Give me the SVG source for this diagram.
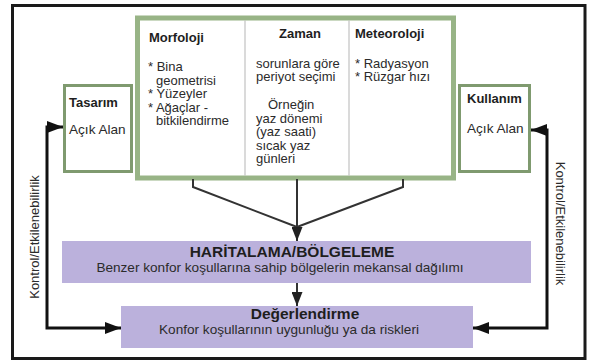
<svg xmlns="http://www.w3.org/2000/svg" width="590" height="363" viewBox="0 0 590 363">
<style>
text{font-family:"Liberation Sans",Arial,sans-serif;fill:#2b2b2b}
.h{font-size:13px;font-weight:bold;fill:#1e1e1e}
.t{font-size:13px}
.s{font-size:13.6px}
.big{font-size:15.5px;font-weight:bold;fill:#1e1e1e}
.m{text-anchor:middle}
.gbox{fill:#fff;stroke:#7f9a6f;stroke-width:3}
.lav{fill:#bbb1dc}
.conn{fill:none;stroke:#111;stroke-width:3}
.flow{fill:none;stroke:#333;stroke-width:2}
</style>
<defs>
<marker id="ah" markerUnits="userSpaceOnUse" markerWidth="16" markerHeight="12" refX="16" refY="6" orient="auto-start-reverse">
<path d="M0,0 L16,6 L0,12 z" fill="#111"/>
</marker>
<marker id="af" markerUnits="userSpaceOnUse" markerWidth="14" markerHeight="11" refX="14" refY="5.5" orient="auto">
<path d="M0,0 L14,5.5 L0,11 z" fill="#222"/>
</marker>
</defs>
<rect x="0" y="0" width="590" height="363" fill="#fff"/>
<rect x="12.5" y="5.5" width="572.5" height="353" fill="none" stroke="#1a1a1a" stroke-width="3"/>

<g id="inputs">
<rect x="137.5" y="18" width="316" height="160" fill="#fff" stroke="#98b486" stroke-width="5"/>
<line x1="245" y1="20.5" x2="245" y2="175.5" stroke="#b5b5b5" stroke-width="1"/>
<line x1="349" y1="20.5" x2="349" y2="175.5" stroke="#b5b5b5" stroke-width="1"/>
<text class="h" x="149" y="42">Morfoloji</text>
<text class="t" x="148" y="71">* Bina</text>
<text class="t" x="156" y="84.5">geometrisi</text>
<text class="t" x="148" y="98">* Yüzeyler</text>
<text class="t" x="148" y="111.5">* Ağaçlar -</text>
<text class="t" x="156" y="125">bitkilendirme</text>
<text class="h m" x="300" y="38">Zaman</text>
<text class="t" x="256" y="67.5">sorunlara göre</text>
<text class="t" x="256" y="81">periyot seçimi</text>
<text class="t" x="268" y="109">Örneğin</text>
<text class="t" x="256" y="122.5">yaz dönemi</text>
<text class="t" x="256" y="136">(yaz saati)</text>
<text class="t" x="256" y="149.5">sıcak yaz</text>
<text class="t" x="256" y="163">günleri</text>
<text class="h" x="355" y="38">Meteoroloji</text>
<text class="t" x="355" y="67.5">* Radyasyon</text>
<text class="t" x="355" y="81">* Rüzgar hızı</text>
</g>

<g id="tasarim">
<rect class="gbox" x="64.5" y="85.5" width="67" height="86"/>
<text class="h" x="69" y="107">Tasarım</text>
<text class="s" x="69" y="134">Açık Alan</text>
</g>

<g id="kullanim">
<rect class="gbox" x="459.5" y="85.5" width="70" height="86"/>
<text class="h" x="467" y="103">Kullanım</text>
<text class="s" x="467" y="133">Açık Alan</text>
</g>

<g id="haritalama">
<rect class="lav" x="62" y="241" width="469" height="42"/>
<text class="big m" x="292" y="257">HARİTALAMA/BÖLGELEME</text>
<text class="s m" x="280" y="272">Benzer konfor koşullarına sahip bölgelerin mekansal dağılımı</text>
</g>

<g id="degerlendirme">
<rect class="lav" x="121" y="306" width="352" height="42"/>
<text class="big m" x="305" y="319">Değerlendirme</text>
<text class="s m" x="289" y="334">Konfor koşullarının uygunluğu ya da riskleri</text>
</g>

<g id="connectors">
<path class="flow" d="M193,179 V187 L297,227"/>
<path class="flow" d="M403,179 V187 L297,227"/>
<path class="flow" d="M297,179 V241" marker-end="url(#af)"/>
<path class="flow" d="M297,283 V306" marker-end="url(#af)"/>
<path class="conn" d="M121,328 H47 V127 H63" marker-start="url(#ah)" marker-end="url(#ah)"/>
<path class="conn" d="M531,130 H547 V328 H473" marker-start="url(#ah)" marker-end="url(#ah)"/>
<text class="t m" transform="translate(39,237) rotate(-90)">Kontrol/Etkilenebilirlik</text>
<text class="t m" transform="translate(556,223.5) rotate(90)">Kontrol/Etkilenebilirlik</text>
</g>
</svg>
